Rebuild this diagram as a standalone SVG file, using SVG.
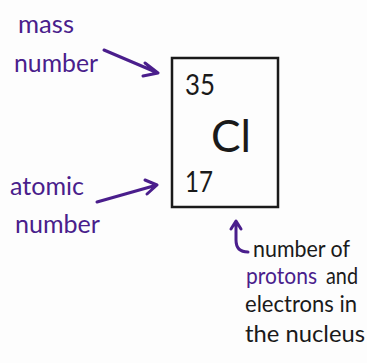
<svg xmlns="http://www.w3.org/2000/svg" width="367" height="363" viewBox="0 0 367 363">
<style>
.p{fill:#4a1e8c;font-family:Lato,"Noto Sans",sans-serif;font-size:25px}
.k{fill:#1a1a1a;font-family:Lato,"Noto Sans",sans-serif;font-size:23px}
.kp{fill:#4a1e8c;font-family:Lato,"Noto Sans",sans-serif;font-size:23px}
.e{fill:#1a1a1a;font-family:Lato,"Noto Sans",sans-serif}
.c{fill:none;stroke:#4a1e8c;stroke-width:3;stroke-linecap:round;stroke-linejoin:round}
</style>
<rect width="367" height="363" fill="#fdfdfd"/>
<g id="element">
<rect x="172" y="58" width="106" height="149" fill="none" stroke="#1a1a1a" stroke-width="2.5"/>
<text class="e" x="185" y="95" font-size="28" textLength="30" lengthAdjust="spacingAndGlyphs">35</text>
<text class="e" x="211" y="152" font-size="44" textLength="40" lengthAdjust="spacingAndGlyphs">Cl</text>
<text class="e" x="185" y="192" font-size="28" textLength="28" lengthAdjust="spacingAndGlyphs">17</text>
</g>
<g id="mass-label">
<text class="p" x="18" y="33" textLength="56" lengthAdjust="spacingAndGlyphs">mass</text>
<text class="p" x="14" y="72" textLength="84" lengthAdjust="spacingAndGlyphs">number</text>
</g>
<g id="atomic-label">
<text class="p" x="10" y="195" textLength="74" lengthAdjust="spacingAndGlyphs">atomic</text>
<text class="p" x="15" y="233" textLength="85" lengthAdjust="spacingAndGlyphs">number</text>
</g>
<g id="note">
<text class="k" x="253" y="257" textLength="97" lengthAdjust="spacingAndGlyphs">number of</text>
<text class="kp" x="246" y="284" textLength="71" lengthAdjust="spacingAndGlyphs">protons</text>
<text class="k" x="326" y="284" textLength="32" lengthAdjust="spacingAndGlyphs">and</text>
<text class="k" x="245" y="312" textLength="112" lengthAdjust="spacingAndGlyphs">electrons in</text>
<text class="k" x="245" y="342" textLength="120" lengthAdjust="spacingAndGlyphs">the nucleus</text>
</g>
<g id="connectors">
<path class="c" d="M104 50 L158 73 M145 63 L158 73 L143 76"/>
<path class="c" d="M97 202 L157 185 M145 180 L157 185 L147 194"/>
<path class="c" d="M248 252 C240 252 236 248 236 240 L236 222 M231 229 L236 221 L241 229"/>
</g>
</svg>
